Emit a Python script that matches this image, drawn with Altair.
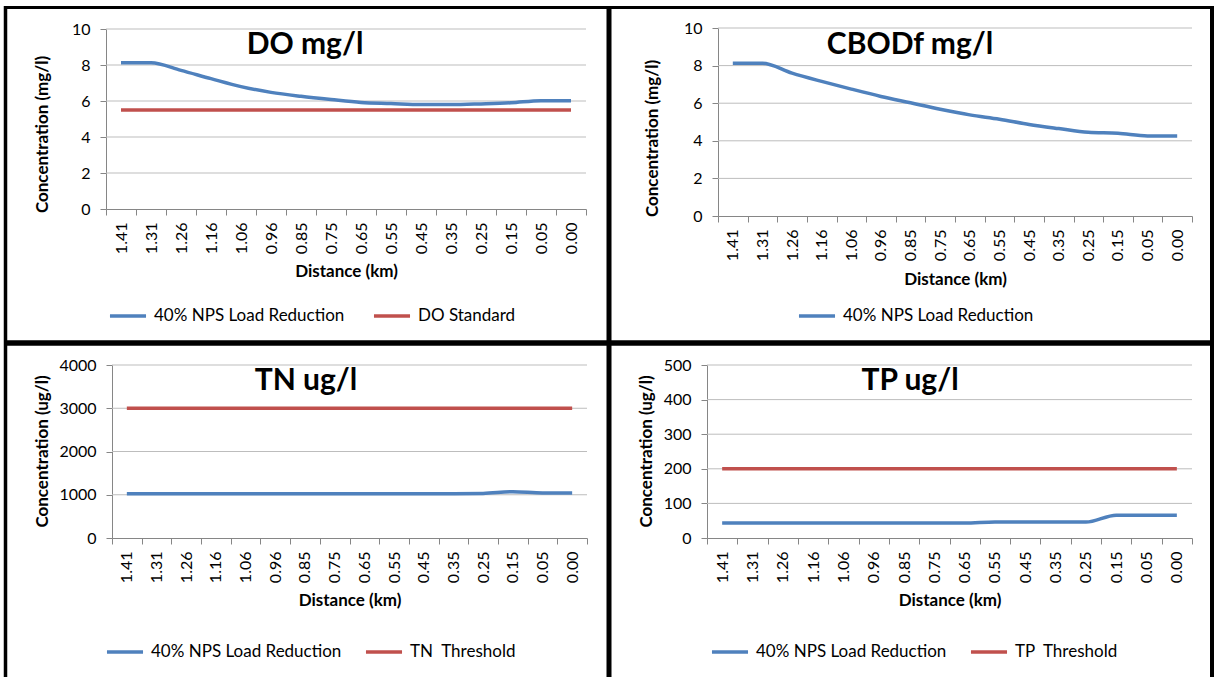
import altair as alt
import pandas as pd

FONT = "Lato"
BLUE = "#4F81BD"
RED = "#C0504D"
GRID = "#BDBDBD"
AXIS = "#868686"
W, H = 1215, 677

# ---------------- data ----------------
distance = ["1.41", "1.31", "1.26", "1.16", "1.06", "0.96", "0.85", "0.75",
            "0.65", "0.55", "0.45", "0.35", "0.25", "0.15", "0.05", "0.00"]

reduction_name = "40% NPS Load Reduction"

do_reduction = [8.12, 8.12, 7.7, 7.24, 6.8, 6.48, 6.26, 6.08,
                5.92, 5.86, 5.8, 5.8, 5.84, 5.9, 6.02, 6.02]
do_standard = [5.5, 5.5, 5.5, 5.5, 5.5, 5.5, 5.5, 5.5,
               5.5, 5.5, 5.5, 5.5, 5.5, 5.5, 5.5, 5.5]

cbod_reduction = [8.13, 8.13, 7.6, 7.16, 6.75, 6.36, 6.02, 5.68,
                  5.38, 5.15, 4.87, 4.65, 4.45, 4.4, 4.26, 4.26]

tn_reduction = [1025, 1025, 1025, 1025, 1025, 1025, 1025, 1025,
                1025, 1025, 1025, 1025, 1030, 1070, 1040, 1040]
tn_threshold = [3000, 3000, 3000, 3000, 3000, 3000, 3000, 3000,
                3000, 3000, 3000, 3000, 3000, 3000, 3000, 3000]

tp_reduction = [43, 43, 43, 43, 43, 43, 43, 43,
                43, 46, 46, 46, 46, 66, 66, 66]
tp_threshold = [200, 200, 200, 200, 200, 200, 200, 200,
                200, 200, 200, 200, 200, 200, 200, 200]

do_ticks = [0, 2, 4, 6, 8, 10]
cbod_ticks = [0, 2, 4, 6, 8, 10]
tn_ticks = [0, 1000, 2000, 3000, 4000]
tp_ticks = [0, 100, 200, 300, 400, 500]

chart_titles = ["DO mg/l", "CBODf mg/l", "TN ug/l", "TP ug/l"]
y_titles = ["Concentration (mg/l)", "Concentration (mg/l)",
            "Concentration (ug/l)", "Concentration (ug/l)"]
x_title = "Distance (km)"
do_std_name = "DO Standard"
tn_thr_name = "TN\u00a0 Threshold"
tp_thr_name = "TP\u00a0 Threshold"


def panel(series, ticks, title, y_title, frame, title_pos, y_title_pos,
          x_title_off, legend_pos, col_pad):
    x0, x1, ybot, ytop = frame
    rows = []
    for name, vals, _c in series:
        for i, (d, v) in enumerate(zip(distance, vals)):
            rows.append({"Distance": d, "Value": v, "Series": name, "idx": i})
    df = pd.DataFrame(rows)

    x_enc = alt.X(
        "Distance:N", sort=distance, bandPosition=0.5,
        scale=alt.Scale(type="band", domain=distance, range=[x0, x1],
                        paddingInner=0, paddingOuter=0),
        axis=alt.Axis(orient="bottom", offset=ybot - H, title=x_title,
                      labelAngle=270, labelAlign="right", labelBaseline="middle",
                      tickBand="extent", tickSize=6, labelPadding=7,
                      labelFont=FONT, labelFontSize=16, labelColor="black",
                      domainColor=AXIS, tickColor=AXIS, grid=False,
                      labelOverlap=False,
                      titleFont=FONT, titleFontSize=17, titleFontWeight="bold",
                      titleColor="black", titleY=x_title_off,
                      titleBaseline="middle"))
    y_scale = alt.Scale(domain=[ticks[0], ticks[-1]], range=[ybot, ytop],
                        nice=False, zero=False)
    y_axis = alt.Axis(orient="left", offset=-x0, values=ticks, format="d",
                      title=y_title, tickSize=6, labelPadding=10,
                      labelFont=FONT, labelFontSize=16, labelColor="black",
                      domainColor=AXIS, tickColor=AXIS, grid=False,
                      titleFont=FONT, titleFontSize=17, titleFontWeight="bold",
                      titleColor="black", titleX=y_title_pos[0],
                      titleY=y_title_pos[1], titleBaseline="middle",
                      titleAngle=270)
    y_enc = alt.Y("Value:Q", scale=y_scale, axis=y_axis)

    grid = alt.Chart(pd.DataFrame({"Value": ticks[1:]})).mark_rule(
        color=GRID, strokeWidth=1).encode(
        y=y_enc, x=alt.value(x0), x2=alt.value(x1))

    names = [s[0] for s in series]
    colors = [s[2] for s in series]
    lines = alt.Chart(df).mark_line(strokeWidth=3.5, interpolate="monotone").encode(
        x=x_enc, y=y_enc,
        color=alt.Color("Series:N", sort=names,
                        scale=alt.Scale(domain=names, range=colors),
                        legend=alt.Legend(
                            title=None, orient="none", legendX=legend_pos[0],
                            legendY=legend_pos[1], direction="horizontal",
                            columns=len(names), symbolType="stroke",
                            symbolStrokeWidth=3.5, symbolSize=1300,
                            labelFont=FONT, labelFontSize=17,
                            labelColor="black", labelLimit=0, labelOffset=6,
                            columnPadding=col_pad, padding=0)),
        order="idx:Q")

    ttl = alt.Chart(pd.DataFrame({"t": [title]})).mark_text(
        font=FONT, fontSize=30, fontWeight="bold", color="black",
        align="center", baseline="alphabetic").encode(
        text="t:N", x=alt.value(title_pos[0]), y=alt.value(title_pos[1]))

    return alt.layer(grid, lines, ttl)


p1 = panel([(reduction_name, do_reduction, BLUE), (do_std_name, do_standard, RED)],
           do_ticks, chart_titles[0], y_titles[0], (106, 586, 209, 29),
           (305, 54), (-64, 134), 62, (108, 296), 21)
p2 = panel([(reduction_name, cbod_reduction, BLUE)],
           cbod_ticks, chart_titles[1], y_titles[1], (718, 1192, 216, 28),
           (910, 54), (-66, 138), 63, (797, 296), 21)
p3 = panel([(reduction_name, tn_reduction, BLUE), (tn_thr_name, tn_threshold, RED)],
           tn_ticks, chart_titles[2], y_titles[2], (112, 587, 538, 365),
           (306, 390), (-70, 451), 62, (105, 632), 16)
p4 = panel([(reduction_name, tp_reduction, BLUE), (tp_thr_name, tp_threshold, RED)],
           tp_ticks, chart_titles[3], y_titles[3], (707, 1192, 538, 365),
           (910, 390), (-61, 451), 62, (710, 632), 16)


def frame_rule(xa, xb, ya, yb, w):
    return alt.Chart(pd.DataFrame({"k": [0]})).mark_rule(
        color="black", strokeWidth=w).encode(
        x=alt.value(xa), x2=alt.value(xb), y=alt.value(ya), y2=alt.value(yb))


borders = [
    frame_rule(4, 1214, 7.5, 7.5, 3),     # top
    frame_rule(5.5, 5.5, 6, 677, 3.5),    # left
    frame_rule(1212, 1212, 6, 677, 4),    # right
    frame_rule(609, 609, 6, 677, 5),      # vertical divider
    frame_rule(4, 1214, 343, 343, 5.5),   # horizontal divider
]

chart = alt.layer(p1, p2, p3, p4, *borders).resolve_scale(
    x="independent", y="independent", color="independent"
).properties(
    width=W, height=H, padding=0, autosize="none", background="white"
).configure_view(stroke=None)

chart.save("out.html", embed_options={"renderer": "svg", "actions": False})
